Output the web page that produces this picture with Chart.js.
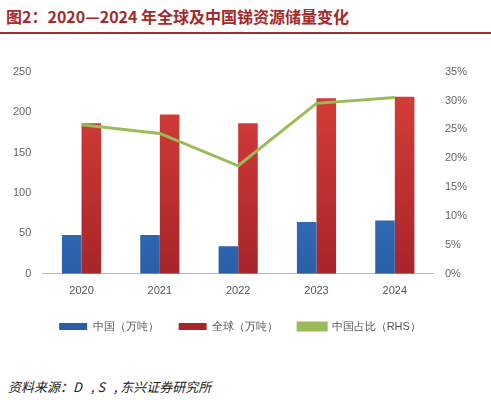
<!DOCTYPE html>
<html><head><meta charset="utf-8">
<script src="https://cdn.jsdelivr.net/npm/chart.js@4"></script>
<style>
body{margin:0;width:491px;height:400px;background:#fff;font-family:"Noto Sans CJK SC",sans-serif;position:relative;overflow:hidden}
#title{position:absolute;left:6px;top:4px;font-size:16px;font-weight:bold;color:#A52A2A}
#line{position:absolute;left:0;top:32px;width:491px;height:2px;background:#A52A2A}
#wrap{position:absolute;left:0;top:62px;width:470px;height:280px}
#src{position:absolute;left:8px;top:377px;font-size:13px;font-style:italic;color:#222}
</style></head><body>
<div id="title">图2：2020—2024 年全球及中国锑资源储量变化</div>
<div id="line"></div>
<div id="wrap"><canvas id="chart"></canvas></div>
<div id="src">资料来源：D &nbsp;&nbsp;, S &nbsp;&nbsp;, 东兴证券研究所</div>
<script>
const years = ["2020","2021","2022","2023","2024"];
const china = [48, 48, 34, 64, 66];
const world = [186, 197, 186, 217, 219];
const share = [25.8, 24.3, 18.7, 29.5, 30.5];

function grad(ctx, top, bottom) {
  const area = ctx.chart.chartArea;
  if (!area) return top;
  const g = ctx.chart.ctx.createLinearGradient(0, area.top, 0, area.bottom);
  g.addColorStop(0, top); g.addColorStop(1, bottom);
  return g;
}

new Chart(document.getElementById("chart"), {
  data: {
    labels: years,
    datasets: [
      { type: "bar", label: "中国（万吨）", data: china, yAxisID: "y",
        backgroundColor: c => grad(c, "#4A86D0", "#2A5FA8"), barPercentage: 1, categoryPercentage: 0.5, order: 2 },
      { type: "bar", label: "全球（万吨）", data: world, yAxisID: "y",
        backgroundColor: c => grad(c, "#D9403A", "#A8252A"), barPercentage: 1, categoryPercentage: 0.5, order: 2 },
      { type: "line", label: "中国占比（RHS）", data: share, yAxisID: "y1",
        borderColor: "#9BBB59", backgroundColor: "#9BBB59", borderWidth: 3, pointRadius: 0, tension: 0, order: 1 }
    ]
  },
  options: {
    responsive: true, maintainAspectRatio: false, animation: false,
    layout: { padding: { left: 10, right: 0 } },
    plugins: {
      legend: { position: "bottom", labels: { boxWidth: 28, boxHeight: 7, font: { size: 11 }, color: "#555", padding: 20,
        sort: (a, b) => a.datasetIndex - b.datasetIndex } },
      tooltip: { enabled: false }
    },
    scales: {
      x: { grid: { display: false }, border: { color: "#bbb" }, ticks: { color: "#555", font: { size: 11 } } },
      y: { min: 0, max: 250, ticks: { stepSize: 50, color: "#666", font: { size: 11 } }, grid: { display: false }, border: { display: false } },
      y1: { position: "right", min: 0, max: 35, ticks: { stepSize: 5, color: "#666", font: { size: 11 }, callback: v => v + "%" }, grid: { display: false }, border: { display: false } }
    }
  }
});
</script>
</body></html>
